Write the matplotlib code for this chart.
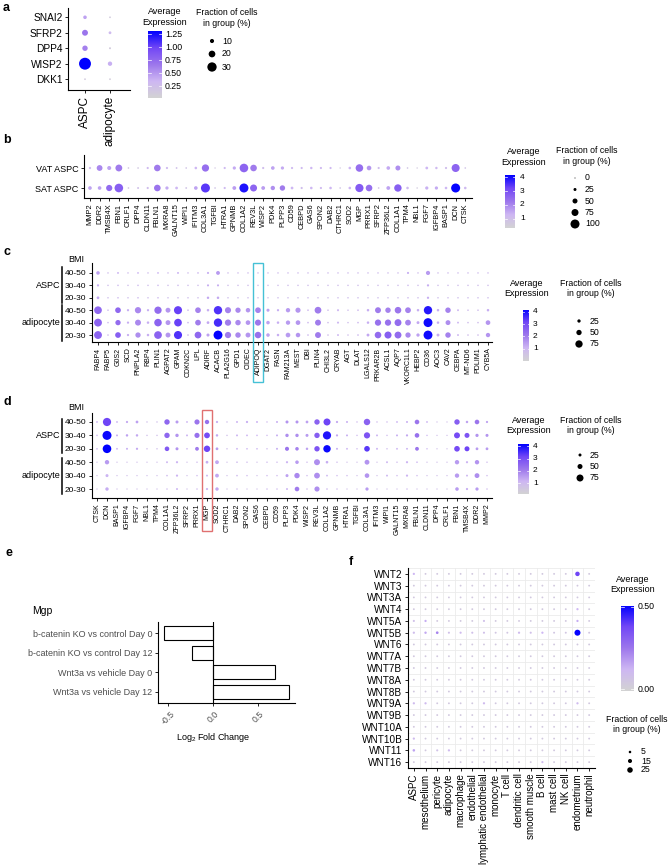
import numpy as np
import matplotlib
matplotlib.use("Agg")
import matplotlib.pyplot as plt
from matplotlib.colors import LinearSegmentedColormap
from matplotlib.patches import Rectangle
import matplotlib.transforms as mtransforms

plt.rcParams['font.family'] = ['Liberation Sans', 'DejaVu Sans']
plt.rcParams['mathtext.default'] = 'regular'

# ---------------- data ----------------
# panel a
a_genes = ['SNAI2', 'SFRP2', 'DPP4', 'WISP2', 'DKK1']
a_groups = ['ASPC', 'adipocyte']
a_pct_aspc = [8, 17, 15, 40, 1]
a_pct_adipo = [1, 5, 2, 11, 1]
a_expr_aspc = [0.45, 0.68, 0.62, 1.31, 0.12]
a_expr_adipo = [0.12, 0.30, 0.12, 0.38, 0.10]

# panel b
b_genes = ['MMP2', 'DDR2', 'TMSB4X', 'FBN1', 'CRLF1', 'DPP4', 'CLDN11', 'FBLN1', 'MXRA8', 'GALNT15',
           'WIPI1', 'IFITM3', 'COL3A1', 'TGFBI', 'HTRA1', 'GPNMB', 'COL1A2', 'REV3L', 'WISP2', 'PDK4',
           'PLPP3', 'CD59', 'CEBPD', 'GAS6', 'SPON2', 'DAB2', 'CTHRC1', 'SOD2', 'MGP', 'PRRX1',
           'SFRP2', 'ZFP36L2', 'COL1A1', 'TPM4', 'NBL1', 'FGF7', 'IGFBP4', 'BASP1', 'DCN', 'CTSK']
b_rows = ['VAT ASPC', 'SAT ASPC']
b_vat_pct = [16, 60, 38, 73, 8, 8, 15, 70, 15, 10, 8, 20, 78, 5, 15, 28, 95, 70, 15, 33,
             28, 15, 15, 18, 15, 15, 5, 20, 82, 45, 15, 33, 50, 8, 5, 22, 18, 15, 88, 8]
b_sat_pct = [33, 33, 65, 95, 8, 12, 15, 70, 28, 22, 10, 33, 100, 8, 15, 35, 100, 75, 35, 42,
             55, 22, 15, 20, 15, 20, 8, 20, 90, 70, 8, 35, 80, 20, 6, 28, 28, 20, 100, 20]
b_vat_expr = [1.2, 2.0, 1.6, 2.2, 0.8, 0.8, 1.2, 2.2, 1.2, 1.0, 0.9, 1.3, 2.4, 0.8, 1.2, 1.5, 2.6, 2.2, 1.1, 1.6,
              1.5, 1.2, 1.2, 1.3, 1.2, 1.2, 0.8, 1.3, 2.4, 1.8, 1.1, 1.5, 1.9, 0.9, 0.7, 1.3, 1.2, 1.1, 2.6, 0.9]
b_sat_expr = [1.6, 1.6, 2.5, 2.7, 0.8, 1.0, 1.1, 2.3, 1.5, 1.3, 0.9, 1.6, 3.4, 0.9, 1.2, 1.7, 3.9, 2.6, 1.7, 1.9,
              2.2, 1.3, 1.1, 1.3, 1.2, 1.3, 0.9, 1.3, 2.8, 2.4, 0.9, 1.6, 2.7, 1.2, 0.7, 1.4, 1.5, 1.3, 4.1, 1.2]

# panel c
c_genes = ['FABP4', 'FABP5', 'G0S2', 'SCD', 'PNPLA2', 'RBP4', 'PLIN1', 'AGPAT2', 'GPAM', 'CDKN2C',
           'LPL', 'ADIRF', 'ACACB', 'PLA2G16', 'GPD1', 'CIDEC', 'ADIPOQ', 'DGAT2', 'FASN', 'FAM213A',
           'MEST', 'DBI', 'PLIN4', 'CHI3L2', 'CRYAB', 'AGT', 'DLAT', 'LGALS12', 'PRKAR2B', 'ACSL1',
           'AQP7', 'VKORC1L1', 'HEBP2', 'CD36', 'AOC3', 'CAV2', 'CEBPA', 'MT-ND6', 'PDLIM1', 'CYB5A']
bmi_rows = ['40-50', '30-40', '20-30', '40-50', '30-40', '20-30']
cell_groups = ['ASPC', 'adipocyte']
c_aspc_4050_pct = [28, 3, 8, 3, 6, 3, 6, 3, 8, 3, 5, 10, 32, 3, 3, 3, 3, 3, 3, 3,
                   3, 3, 4, 3, 3, 3, 3, 3, 3, 3, 3, 10, 3, 36, 3, 3, 3, 3, 3, 3]
c_aspc_4050_expr = [1.4, 0.8, 1.0, 0.8, 1.0, 0.8, 1.0, 0.8, 1.1, 0.8, 0.9, 1.2, 1.5, 0.8, 0.8, 0.8, 0.8, 0.8, 0.8, 0.8,
                    0.8, 0.8, 0.9, 0.8, 0.8, 0.8, 0.8, 0.8, 0.8, 0.8, 0.8, 1.2, 0.8, 1.5, 0.8, 0.8, 0.8, 0.8, 0.8, 0.8]
c_aspc_3040_pct = [12, 3, 4, 3, 4, 3, 4, 3, 4, 3, 3, 10, 10, 3, 3, 3, 3, 3, 3, 3,
                   3, 3, 3, 3, 3, 3, 3, 3, 3, 3, 3, 4, 3, 12, 3, 3, 3, 3, 3, 3]
c_aspc_3040_expr = [1.2, 0.8, 0.9, 0.8, 0.9, 0.8, 0.9, 0.8, 0.9, 0.8, 0.8, 1.2, 1.2, 0.8, 0.8, 0.8, 0.8, 0.8, 0.8, 0.8,
                    0.8, 0.8, 0.8, 0.8, 0.8, 0.8, 0.8, 0.8, 0.8, 0.8, 0.8, 0.9, 0.8, 1.2, 0.8, 0.8, 0.8, 0.8, 0.8, 0.8]
c_aspc_2030_pct = [18, 3, 4, 3, 4, 3, 4, 3, 4, 3, 3, 14, 15, 3, 3, 3, 3, 3, 3, 3,
                   3, 3, 3, 3, 3, 3, 3, 3, 3, 3, 3, 4, 3, 12, 3, 3, 3, 3, 3, 3]
c_aspc_2030_expr = [1.3, 0.8, 0.9, 0.8, 0.9, 0.8, 0.9, 0.8, 0.9, 0.8, 0.8, 1.3, 1.3, 0.8, 0.8, 0.8, 0.8, 0.8, 0.8, 0.8,
                    0.8, 0.8, 0.8, 0.8, 0.8, 0.8, 0.8, 0.8, 0.8, 0.8, 0.8, 0.9, 0.8, 1.2, 0.8, 0.8, 0.8, 0.8, 0.8, 0.8]
c_ad_4050_pct = [80, 4, 55, 12, 62, 12, 75, 45, 85, 5, 55, 15, 88, 60, 50, 40, 55, 22, 12, 38,
                 48, 5, 68, 4, 10, 3, 5, 15, 58, 52, 66, 56, 15, 88, 15, 52, 8, 4, 4, 15]
c_ad_4050_expr = [2.4, 0.9, 2.4, 1.2, 1.8, 1.2, 2.3, 1.6, 3.2, 0.9, 1.9, 1.2, 3.4, 1.9, 1.8, 1.6, 1.9, 1.4, 1.2, 1.5,
                  1.6, 0.9, 2.0, 0.8, 1.0, 0.8, 0.9, 1.2, 2.0, 1.9, 2.1, 1.9, 1.2, 3.8, 1.2, 1.9, 1.0, 0.8, 0.8, 1.2]
c_ad_3040_pct = [82, 4, 50, 12, 58, 15, 78, 45, 80, 5, 55, 18, 88, 62, 52, 42, 60, 28, 15, 38,
                 42, 5, 58, 4, 10, 3, 5, 15, 62, 62, 70, 56, 20, 95, 15, 45, 8, 4, 4, 42]
c_ad_3040_expr = [2.5, 0.9, 2.3, 1.2, 1.8, 1.2, 2.5, 1.6, 3.2, 0.9, 2.0, 1.3, 3.5, 2.0, 1.8, 1.6, 2.1, 1.4, 1.2, 1.5,
                  1.6, 0.9, 2.0, 0.8, 1.0, 0.8, 0.9, 1.2, 2.2, 2.2, 2.3, 1.9, 1.3, 4.0, 1.2, 1.7, 1.0, 0.8, 0.8, 1.6]
c_ad_2030_pct = [82, 4, 55, 12, 50, 15, 80, 45, 85, 5, 68, 22, 95, 62, 52, 45, 65, 28, 15, 42,
                 40, 5, 58, 4, 8, 3, 5, 20, 66, 72, 70, 50, 25, 95, 20, 52, 8, 4, 4, 38]
c_ad_2030_expr = [2.5, 0.9, 2.6, 1.2, 1.7, 1.2, 2.5, 1.6, 3.4, 0.9, 2.4, 1.4, 4.1, 2.0, 1.8, 1.6, 2.2, 1.4, 1.2, 1.5,
                  1.6, 0.9, 2.0, 0.8, 1.0, 0.8, 0.9, 1.3, 2.3, 2.6, 2.3, 1.8, 1.4, 4.0, 1.2, 1.9, 1.0, 0.8, 0.8, 1.6]

# panel d
d_genes = ['CTSK', 'DCN', 'BASP1', 'IGFBP4', 'FGF7', 'NBL1', 'TPM4', 'COL1A1', 'ZFP36L2', 'SFRP2',
           'PRRX1', 'MGP', 'SOD2', 'CTHRC1', 'DAB2', 'SPON2', 'GAS6', 'CEBPD', 'CD59', 'PLPP3',
           'PDK4', 'WISP2', 'REV3L', 'COL1A2', 'GPNMB', 'HTRA1', 'TGFBI', 'COL3A1', 'IFITM3', 'WIPI1',
           'GALNT15', 'MXRA8', 'FBLN1', 'CLDN11', 'DPP4', 'CRLF1', 'FBN1', 'TMSB4X', 'DDR2', 'MMP2']
d_aspc_4050_pct = [10, 90, 10, 15, 22, 6, 6, 55, 25, 10, 52, 42, 15, 6, 12, 15, 12, 6, 12, 25,
                   25, 22, 55, 75, 15, 12, 6, 68, 6, 6, 10, 12, 45, 10, 4, 4, 55, 18, 45, 15]
d_aspc_4050_expr = [1.2, 3.2, 1.2, 1.4, 1.5, 0.9, 0.9, 2.5, 1.6, 1.2, 2.2, 2.3, 1.3, 0.9, 1.2, 1.3, 1.2, 1.0, 1.3, 1.7,
                    1.7, 1.5, 2.6, 3.2, 1.4, 1.3, 1.0, 2.6, 1.0, 1.0, 1.2, 1.3, 2.2, 1.2, 0.9, 0.9, 2.7, 1.5, 2.2, 1.5]
d_aspc_3040_pct = [8, 100, 12, 18, 18, 6, 6, 55, 30, 12, 52, 60, 18, 6, 12, 10, 8, 6, 12, 30,
                   30, 25, 55, 90, 15, 12, 6, 65, 12, 6, 12, 15, 45, 6, 4, 4, 62, 50, 28, 25]
d_aspc_3040_expr = [1.1, 4.1, 1.3, 1.5, 1.4, 0.9, 0.9, 2.5, 1.7, 1.2, 2.3, 3.1, 1.4, 0.9, 1.2, 1.2, 1.1, 1.0, 1.3, 1.8,
                    1.8, 1.6, 2.7, 3.9, 1.4, 1.3, 1.0, 2.9, 1.2, 1.0, 1.3, 1.4, 2.3, 1.1, 0.9, 0.9, 3.1, 2.9, 1.7, 1.7]
d_aspc_2030_pct = [8, 95, 10, 12, 15, 6, 6, 45, 25, 8, 35, 68, 22, 6, 10, 8, 8, 6, 12, 38,
                   32, 18, 55, 80, 12, 10, 6, 58, 12, 6, 10, 10, 35, 6, 4, 4, 58, 50, 22, 22]
d_aspc_2030_expr = [1.1, 4.2, 1.2, 1.3, 1.4, 0.9, 0.9, 2.8, 1.7, 1.1, 2.1, 3.2, 1.6, 0.9, 1.2, 1.1, 1.1, 1.0, 1.3, 2.2,
                    2.0, 1.5, 2.9, 4.1, 1.3, 1.2, 1.0, 3.4, 1.2, 1.0, 1.2, 1.3, 2.2, 1.1, 0.9, 0.9, 3.1, 3.2, 1.6, 1.6]
d_ad_4050_pct = [4, 42, 4, 4, 4, 4, 4, 12, 15, 4, 6, 22, 35, 4, 8, 6, 4, 6, 6, 15,
                 32, 6, 62, 20, 6, 4, 4, 48, 4, 12, 6, 15, 8, 4, 4, 4, 42, 15, 42, 6]
d_ad_4050_expr = [0.9, 1.6, 0.9, 0.9, 0.9, 0.9, 0.9, 1.1, 1.2, 0.9, 1.0, 1.3, 1.4, 0.9, 1.0, 1.0, 0.9, 1.0, 1.0, 1.2,
                  1.6, 1.0, 1.8, 1.3, 1.0, 0.9, 0.9, 1.7, 0.9, 1.1, 1.0, 1.2, 1.1, 0.9, 0.9, 0.9, 1.6, 1.2, 1.7, 1.0]
d_ad_3040_pct = [4, 25, 4, 4, 4, 4, 4, 8, 15, 4, 6, 12, 35, 4, 8, 6, 4, 6, 6, 25,
                 55, 6, 60, 10, 6, 6, 4, 45, 4, 12, 6, 15, 6, 4, 4, 4, 42, 12, 48, 6]
d_ad_3040_expr = [0.9, 1.2, 0.9, 0.9, 0.9, 0.9, 0.9, 1.0, 1.2, 0.9, 1.0, 1.1, 1.4, 0.9, 1.0, 1.0, 0.9, 1.0, 1.0, 1.5,
                  1.9, 1.0, 1.8, 1.1, 1.0, 1.0, 0.9, 1.7, 0.9, 1.1, 1.0, 1.2, 1.0, 0.9, 0.9, 0.9, 1.6, 1.1, 1.8, 1.0]
d_ad_2030_pct = [4, 30, 4, 4, 4, 4, 4, 6, 12, 4, 6, 15, 30, 4, 6, 4, 4, 6, 6, 12,
                 45, 6, 52, 8, 6, 4, 4, 28, 4, 4, 4, 6, 4, 4, 4, 4, 32, 15, 28, 6]
d_ad_2030_expr = [0.9, 1.3, 0.9, 0.9, 0.9, 0.9, 0.9, 1.0, 1.2, 0.9, 1.0, 1.2, 1.4, 0.9, 1.0, 0.9, 0.9, 1.0, 1.0, 1.2,
                  2.1, 1.0, 1.8, 1.0, 1.0, 0.9, 0.9, 1.6, 0.9, 0.9, 0.9, 1.0, 0.9, 0.9, 0.9, 0.9, 1.6, 1.3, 1.6, 1.0]

# panel e
e_labels = ['b-catenin KO vs control Day 0', 'b-catenin KO vs control Day 12',
            'Wnt3a vs vehicle Day 0', 'Wnt3a vs vehicle Day 12']
e_values = [-0.54, -0.23, 0.69, 0.84]

# panel f
f_genes = ['WNT2', 'WNT3', 'WNT3A', 'WNT4', 'WNT5A', 'WNT5B', 'WNT6', 'WNT7A', 'WNT7B', 'WNT8A',
           'WNT8B', 'WNT9A', 'WNT9B', 'WNT10A', 'WNT10B', 'WNT11', 'WNT16']
f_cells = ['ASPC', 'mesothelium', 'pericyte', 'adipocyte', 'macrophage', 'endothelial',
           'lymphatic endothelial', 'monocyte', 'T cell', 'dendritic cell', 'smooth muscle',
           'B cell', 'mast cell', 'NK cell', 'endometrium', 'neutrophil']
f_pct = [
    [3, .5, .5, .5, .5, .5, .5, .5, .5, .5, .5, .5, .5, .5, 18, .5],
    [.5, .5, .5, .5, .5, .5, .5, .5, .5, .5, .5, .5, .5, .5, .5, .5],
    [.3, .3, .3, .3, .3, .3, .3, .3, .3, .3, .3, .3, .3, .3, .3, .3],
    [.5, .5, .5, .5, .5, .5, .5, .5, .5, .5, .5, .5, .5, .5, 3, .5],
    [2, 3, .5, .5, .5, .5, 2, .5, .5, .5, .5, .5, .5, .5, 3, .5],
    [3, 4, 6, 2, 2.5, 2, 2, 1, 1, 3, 2, 3, 1, 1, 28, 1],
    [.5, .5, .5, .5, .5, .5, .5, .5, .5, .5, .5, .5, .5, .5, .5, .5],
    [.5, .5, .5, .5, .5, .5, .5, .5, .5, .5, .5, .5, .5, .5, .5, .5],
    [.5, .5, .5, .5, .5, .5, .5, .5, .5, .5, .5, .5, .5, .5, .5, .5],
    [.5, .5, .5, .5, .5, .5, .5, .5, .5, .5, .5, .5, .5, .5, .5, .5],
    [.5, .5, .5, .5, .5, .5, .5, .5, .5, .5, .5, .5, .5, .5, .5, .5],
    [3, 3, .5, .5, .5, .5, 3, .5, .5, .5, .5, .5, .5, .5, 3, .5],
    [.5, .5, .5, .5, .5, .5, .5, .5, .5, .5, .5, .5, .5, .5, .5, .5],
    [.5, .5, .5, .5, .5, .5, .5, .5, .5, .5, .5, .5, .5, .5, .5, .5],
    [3, .5, .5, .5, .5, .5, .5, .5, .5, .5, .5, .5, .5, .5, .5, .5],
    [5, .5, 2, 3, .5, .5, .5, .5, .5, .5, .5, .5, .5, .5, .5, .5],
    [.5, .5, .5, .5, .5, .5, .5, .5, .5, .5, .5, 2.5, .5, .5, .5, .5],
]
f_expr = [
    [.12, .04, .04, .04, .04, .04, .04, .04, .04, .04, .04, .04, .04, .04, .38, .04],
    [.04] * 16,
    [.04] * 16,
    [.04, .04, .04, .04, .04, .04, .04, .04, .04, .04, .04, .04, .04, .04, .12, .04],
    [.08, .14, .04, .04, .04, .04, .08, .04, .04, .04, .04, .04, .04, .04, .14, .04],
    [.09, .15, .22, .08, .10, .08, .08, .05, .05, .10, .08, .12, .05, .05, .50, .05],
    [.04] * 16,
    [.04] * 16,
    [.04] * 16,
    [.04] * 16,
    [.04] * 16,
    [.10, .10, .04, .04, .04, .04, .10, .04, .04, .04, .04, .04, .04, .04, .10, .04],
    [.04] * 16,
    [.04] * 16,
    [.10, .04, .04, .04, .04, .04, .04, .04, .04, .04, .04, .04, .04, .04, .04, .04],
    [.16, .04, .07, .10, .04, .04, .04, .04, .04, .04, .04, .04, .04, .04, .04, .04],
    [.04, .04, .04, .04, .04, .04, .04, .04, .04, .04, .04, .10, .04, .04, .04, .04],
]

# ---------------- figure ----------------
W, H = 668, 866
fig = plt.figure(figsize=(W / 100, H / 100), dpi=100)
ov = fig.add_axes([0, 0, 1, 1], zorder=10)
ov.set_xlim(0, W)
ov.set_ylim(H, 0)
ov.axis('off')


def add_ax(x0, y0, x1, y1):
    return fig.add_axes([x0 / W, 1 - y1 / H, (x1 - x0) / W, (y1 - y0) / H])


cmap = LinearSegmentedColormap.from_list(
    'greyblue', ['#d3d3d3', '#ceb7f3', '#9d77ec', '#7247f6', '#0000ff'])


def size_fn(d0, k):
    def f(v):
        return ((d0 + k * np.asarray(v, float)) * 0.72) ** 2
    return f


def style_ax(ax):
    for s in ['top', 'right']:
        ax.spines[s].set_visible(False)
    for s in ['left', 'bottom']:
        ax.spines[s].set_linewidth(0.8)
    ax.tick_params(length=2.5, width=0.6, pad=1.5, colors='black')
    ax.set_facecolor('none')


def dots(ax, pct_rows, expr_rows, sf, vmin, vmax):
    for r, (p, e) in enumerate(zip(pct_rows, expr_rows)):
        x = np.arange(len(p))
        ax.scatter(x, np.full(len(p), r), s=sf(p), c=e, cmap=cmap, vmin=vmin, vmax=vmax,
                   linewidths=0, clip_on=False, zorder=3)


def colorbar(x0, y0, x1, y1, vmin, vmax, ticks, labels, fs, gap=3):
    cax = add_ax(x0, y0, x1, y1)
    grad = np.linspace(vmin, vmax, 256).reshape(-1, 1)
    cax.imshow(grad, aspect='auto', cmap=cmap, vmin=vmin, vmax=vmax, origin='lower',
               extent=[0, 1, vmin, vmax])
    cax.set_xlim(0, 1)
    cax.set_ylim(vmin, vmax)
    cax.axis('off')
    tr = mtransforms.blended_transform_factory(cax.transAxes, cax.transData)
    for t, lab in zip(ticks, labels):
        cax.plot([0, 0.2], [t, t], color='white', lw=0.5)
        cax.plot([0.8, 1], [t, t], color='white', lw=0.5)
        cax.text(1 + gap / (x1 - x0), t, lab, transform=tr, ha='left', va='center', fontsize=fs)


def size_legend(tx, ty, dot_x, ys, vals, sf, lab_x, fs):
    ov.text(tx, ty, 'Fraction of cells\nin group (%)', ha='center', va='center', fontsize=fs,
            linespacing=1.15)
    ov.scatter([dot_x] * len(ys), ys, s=sf(vals), c='black', linewidths=0)
    for y, v in zip(ys, vals):
        ov.text(lab_x, y, str(v), ha='left', va='center', fontsize=fs)


def title_avg(x, y, fs):
    ov.text(x, y, 'Average\nExpression', ha='center', va='center', fontsize=fs, linespacing=1.15)


def panel_letter(x, y, s):
    ov.text(x, y, s, ha='left', va='center', fontsize=9, fontweight='bold')


# ---------- panel a ----------
panel_letter(3, 8, 'a')
axA = add_ax(68, 8, 130, 90)
style_ax(axA)
sfA = size_fn(1.5, 0.26)
a_pct = np.column_stack([a_pct_aspc, a_pct_adipo])
a_expr = np.column_stack([a_expr_aspc, a_expr_adipo])
dots(axA, a_pct, a_expr, sfA, 0.02, 1.31)
axA.set_xlim(-0.68, 1.8)
axA.set_ylim(4.7, -0.6)
axA.set_yticks(range(len(a_genes)))
axA.set_yticklabels(a_genes, fontsize=7.3)
axA.set_xticks(range(len(a_groups)))
axA.set_xticklabels(a_groups, fontsize=8.5, rotation=90)
title_avg(165, 17, 6.5)
colorbar(148, 31, 162, 98, 0.02, 1.31, [0.25, 0.5, 0.75, 1.0, 1.25],
         ['0.25', '0.50', '0.75', '1.00', '1.25'], 6.3)
size_legend(227, 18, 212, [41, 54, 67], [10, 20, 30], sfA, 222, 6.3)

# ---------- panel b ----------
panel_letter(3, 140, 'b')
axB = add_ax(84, 155, 472, 198)
style_ax(axB)
sfB = size_fn(1.0, 0.08)
dots(axB, [b_vat_pct, b_sat_pct], [b_vat_expr, b_sat_expr], sfB, 0.35, 4.15)
axB.set_xlim(-0.62, 39.7)
axB.set_ylim(1.5, -0.65)
axB.set_yticks([0, 1])
axB.set_yticklabels(b_rows, fontsize=6.5)
axB.set_xticks(range(len(b_genes)))
axB.set_xticklabels(b_genes, fontsize=5.3, rotation=90)
title_avg(524, 157, 6.5)
colorbar(505, 175, 515, 228, 0.35, 4.15, [1, 2, 3, 4], ['1', '2', '3', '4'], 6, gap=5)
size_legend(587, 156, 575, [178, 189.5, 201, 212.5, 224], [0, 25, 50, 75, 100], sfB, 585, 6.3)

# ---------- panel c ----------
panel_letter(3, 252, 'c')
axC = add_ax(92, 263, 492, 342)
style_ax(axC)
sfC = size_fn(1.3, 0.08)
c_pct_rows = [c_aspc_4050_pct, c_aspc_3040_pct, c_aspc_2030_pct, c_ad_4050_pct, c_ad_3040_pct, c_ad_2030_pct]
c_expr_rows = [c_aspc_4050_expr, c_aspc_3040_expr, c_aspc_2030_expr, c_ad_4050_expr, c_ad_3040_expr, c_ad_2030_expr]
dots(axC, c_pct_rows, c_expr_rows, sfC, 0.0, 4.14)
axC.set_xlim(-0.6, 39.4)
axC.set_ylim(5.56, -0.8)
axC.set_yticks(range(6))
axC.set_yticklabels(bmi_rows, fontsize=6)
axC.set_xticks(range(len(c_genes)))
axC.set_xticklabels(c_genes, fontsize=5.0, rotation=90)
ov.text(68, 259, 'BMI', ha='left', va='center', fontsize=6.5)
trC = mtransforms.blended_transform_factory(ov.transData, axC.transData)
ov.plot([62, 62], [-0.45, 2.4], color='black', lw=1.1, transform=trC, clip_on=False)
ov.plot([62, 62], [2.6, 5.45], color='black', lw=1.1, transform=trC, clip_on=False)
ov.text(60, 1, cell_groups[0], ha='right', va='center', fontsize=6.5, transform=trC)
ov.text(60, 4, cell_groups[1], ha='right', va='center', fontsize=6.5, transform=trC)
trCx = mtransforms.blended_transform_factory(axC.transData, ov.transData)
iq = c_genes.index('ADIPOQ')
ov.add_patch(Rectangle((iq - 0.5, 263), 1.0, 119, transform=trCx, fill=False,
                       edgecolor='#45c1d6', lw=1.0, clip_on=False))
title_avg(527, 288.5, 6.5)
colorbar(523, 310, 529, 361, 0.0, 4.14, [1, 2, 3, 4], ['1', '2', '3', '4'], 6, gap=4)
size_legend(591, 288.5, 579, [321, 332.5, 344], [25, 50, 75], sfC, 590, 6.3)

# ---------- panel d ----------
panel_letter(3, 402, 'd')
axD = add_ax(92, 413, 492, 498)
style_ax(axD)
sfD = size_fn(1.0, 0.08)
d_pct_rows = [d_aspc_4050_pct, d_aspc_3040_pct, d_aspc_2030_pct, d_ad_4050_pct, d_ad_3040_pct, d_ad_2030_pct]
d_expr_rows = [d_aspc_4050_expr, d_aspc_3040_expr, d_aspc_2030_expr, d_ad_4050_expr, d_ad_3040_expr, d_ad_2030_expr]
dots(axD, d_pct_rows, d_expr_rows, sfD, 0.12, 4.2)
axD.set_xlim(-0.5, 39.5)
axD.set_ylim(5.67, -0.67)
axD.set_yticks(range(6))
axD.set_yticklabels(bmi_rows, fontsize=6)
axD.set_xticks(range(len(d_genes)))
axD.set_xticklabels(d_genes, fontsize=5.0, rotation=90)
ov.text(68, 408, 'BMI', ha='left', va='center', fontsize=6.5)
trD = mtransforms.blended_transform_factory(ov.transData, axD.transData)
ov.plot([62, 62], [-0.2, 2.3], color='black', lw=1.1, transform=trD, clip_on=False)
ov.plot([62, 62], [2.7, 5.35], color='black', lw=1.1, transform=trD, clip_on=False)
ov.text(60, 1, cell_groups[0], ha='right', va='center', fontsize=6.5, transform=trD)
ov.text(60, 4, cell_groups[1], ha='right', va='center', fontsize=6.5, transform=trD)
trDx = mtransforms.blended_transform_factory(axD.transData, ov.transData)
im = d_genes.index('MGP')
ov.add_patch(Rectangle((im - 0.5, 410), 1.0, 121, transform=trDx, fill=False,
                       edgecolor='#e07070', lw=1.0, clip_on=False))
title_avg(529, 425.5, 6.5)
colorbar(518, 444, 529, 494, 0.12, 4.2, [1, 2, 3, 4], ['1', '2', '3', '4'], 6, gap=4)
size_legend(591, 425.5, 580, [455, 466.5, 478], [25, 50, 75], sfD, 590, 6.3)

# ---------- panel e ----------
panel_letter(5, 553, 'e')
axE = add_ax(158, 622, 295, 703)
style_ax(axE)
axE.barh(range(len(e_values)), e_values, height=0.72, color='white', edgecolor='black', lw=0.8, zorder=3)
axE.axvline(0, color='black', lw=0.8, zorder=4)
axE.set_xlim(-0.611, 0.911)
axE.set_ylim(3.56, -0.56)
axE.set_yticks(range(len(e_labels)))
axE.set_yticklabels(e_labels, fontsize=6.5, color='#4d4d4d')
axE.set_xticks([-0.5, 0.0, 0.5])
axE.set_xticklabels(['-0.5', '0.0', '0.5'], fontsize=6.3, color='#4d4d4d', rotation=45,
                    ha='center', va='top')
axE.tick_params(axis='x', pad=2)
ov.text(32, 611, 'Mgp', ha='left', va='center', fontsize=7.5)
ov.text(213, 738, 'Log$_2$ Fold Change', ha='center', va='center', fontsize=6.5)

# ---------- panel f ----------
panel_letter(349, 562, 'f')
axF = add_ax(408, 568, 595, 768)
style_ax(axF)
sfF = size_fn(1.8, 0.15)
dots(axF, f_pct, f_expr, sfF, -0.01, 0.505)
axF.set_xlim(-0.5, 15.5)
axF.set_ylim(16.5, -0.5)
axF.set_yticks(range(len(f_genes)))
axF.set_yticklabels(f_genes, fontsize=7.2)
axF.set_xticks(range(len(f_cells)))
axF.set_xticklabels(f_cells, fontsize=7.0, rotation=90)
axF.set_xticks(np.arange(-0.5, 16, 1), minor=True)
axF.set_yticks(np.arange(-0.5, 17, 1), minor=True)
axF.tick_params(which='minor', length=0)
axF.grid(which='minor', color='#ebebeb', lw=0.6)
axF.set_axisbelow(True)
title_avg(633, 584.5, 6.5)
colorbar(621, 606, 634, 691, -0.01, 0.505, [0.0, 0.5], ['0.00', '0.50'], 6.3, gap=4)
size_legend(637, 724.5, 630, [752, 761, 770], [5, 15, 25], sfF, 641, 6.3)

fig.savefig('out.png', dpi=100)
